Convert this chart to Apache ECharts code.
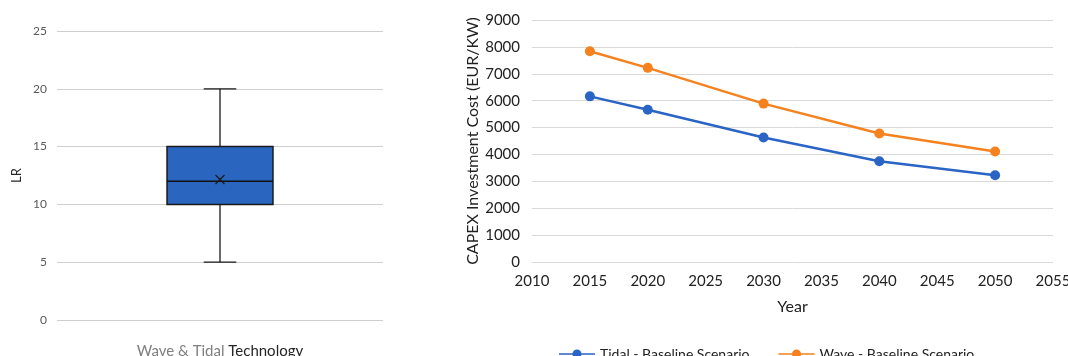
<!DOCTYPE html>
<html><head><meta charset="utf-8">
<script src="https://cdn.jsdelivr.net/npm/echarts@6/dist/echarts.min.js"></script>
<style>html,body{margin:0;padding:0;background:#fff}#c{width:1068px;height:356px}</style>
</head><body><div id="c"></div>
<script>
// Box plot (Learning Rate)
const boxCategories = ['Wave & Tidal Technology'];
const boxStats = [[0, 5, 10, 12, 15, 20, 12.15]]; // [cat, min, q1, median, q3, max, mean]
const lrTicks = [0, 5, 10, 15, 20, 25];

// CAPEX lines
const years = [2015, 2020, 2030, 2040, 2050];
const tidalCapex = [6160, 5665, 4630, 3745, 3225];
const waveCapex = [7840, 7220, 5890, 4780, 4110];
const yearTicks = [2010, 2015, 2020, 2025, 2030, 2035, 2040, 2045, 2050, 2055];

const FONT = 'Lato';
const legendIcon = 'path://M0,4.2 L40,4.2 L40,5.8 L0,5.8 Z M20,0 A5,5 0 1,1 19.99,0 Z';
const chart = echarts.init(document.getElementById('c'));
chart.setOption({
  animation: false,
  textStyle: { fontFamily: FONT },
  grid: [
    { left: 57, top: 31, width: 326, height: 289, outerBoundsMode: 'none', containLabel: false },
    { left: 532, top: 20, right: 15, bottom: 94, outerBoundsMode: 'none', containLabel: false }
  ],
  xAxis: [
    { gridIndex: 0, type: 'category', data: boxCategories,
      axisLine: { show: false }, axisTick: { show: false },
      axisLabel: { margin: 24, fontSize: 15, fontFamily: FONT,
        formatter: v => '{g|Wave & Tidal} {d|Technology}',
        rich: { g: { color: '#7f7f7f', fontSize: 15, fontFamily: FONT }, d: { color: '#262626', fontSize: 15, fontFamily: FONT } } } },
    { gridIndex: 1, type: 'value', min: yearTicks[0], max: yearTicks[yearTicks.length - 1], interval: 5,
      axisLine: { show: false }, axisTick: { show: false }, splitLine: { show: false },
      axisLabel: { color: '#222', fontSize: 15, margin: 12, fontFamily: FONT, formatter: v => String(v) },
      name: 'Year', nameLocation: 'middle', nameGap: 37,
      nameTextStyle: { color: '#222', fontSize: 16, fontFamily: FONT } }
  ],
  yAxis: [
    { gridIndex: 0, type: 'value', min: lrTicks[0], max: lrTicks[lrTicks.length - 1], interval: 5,
      axisLine: { show: false }, axisTick: { show: false },
      splitLine: { lineStyle: { color: '#cfcfcf', width: 1 } },
      axisLabel: { color: '#595959', fontSize: 12, margin: 10, fontFamily: FONT },
      name: 'LR', nameLocation: 'middle', nameGap: 34,
      nameTextStyle: { color: '#262626', fontSize: 13, fontFamily: FONT } },
    { gridIndex: 1, type: 'value', min: 0, max: 9000, interval: 1000,
      axisLine: { show: false }, axisTick: { show: false },
      splitLine: { lineStyle: { color: '#d9d9d9', width: 1 } },
      axisLabel: { color: '#222', fontSize: 15, margin: 12, fontFamily: FONT, formatter: v => String(v) },
      name: 'CAPEX Investment Cost (EUR/KW)', nameLocation: 'middle', nameGap: 51,
      nameTextStyle: { color: '#222', fontSize: 16, fontFamily: FONT } }
  ],
  legend: {
    top: 342, left: 554, itemGap: 29, itemWidth: 36, itemHeight: 10,
    textStyle: { color: '#222', fontSize: 14, fontFamily: FONT },
    data: [
      { name: 'Tidal - Baseline Scenario', icon: legendIcon, itemStyle: { color: '#2a64c5' } },
      { name: 'Wave - Baseline Scenario', icon: legendIcon, itemStyle: { color: '#f5821f' } }
    ]
  },
  series: [
    { type: 'custom', xAxisIndex: 0, yAxisIndex: 0, data: boxStats,
      renderItem: function (params, api) {
        const band = api.size([1, 0])[0];
        const cx = api.coord([api.value(0), 0])[0];
        const yMin = api.coord([0, api.value(1)])[1];
        const yQ1 = api.coord([0, api.value(2)])[1];
        const yMed = api.coord([0, api.value(3)])[1];
        const yQ3 = api.coord([0, api.value(4)])[1];
        const yMax = api.coord([0, api.value(5)])[1];
        const yMean = api.coord([0, api.value(6)])[1];
        const bw = band * 0.325, cw = band * 0.1, m = 4.5;
        const ls = { stroke: '#1a1a1a', lineWidth: 1.3 };
        return { type: 'group', children: [
          { type: 'line', shape: { x1: cx, y1: yMax, x2: cx, y2: yQ3 }, style: ls },
          { type: 'line', shape: { x1: cx, y1: yQ1, x2: cx, y2: yMin }, style: ls },
          { type: 'line', shape: { x1: cx - cw / 2, y1: yMax, x2: cx + cw / 2, y2: yMax }, style: ls },
          { type: 'line', shape: { x1: cx - cw / 2, y1: yMin, x2: cx + cw / 2, y2: yMin }, style: ls },
          { type: 'rect', shape: { x: cx - bw / 2, y: yQ3, width: bw, height: yQ1 - yQ3 },
            style: { fill: '#2a66c0', stroke: '#1a1a1a', lineWidth: 1.5 } },
          { type: 'line', shape: { x1: cx - bw / 2, y1: yMed, x2: cx + bw / 2, y2: yMed }, style: { stroke: '#111', lineWidth: 1.6 } },
          { type: 'line', shape: { x1: cx - m, y1: yMean - m, x2: cx + m, y2: yMean + m }, style: ls },
          { type: 'line', shape: { x1: cx - m, y1: yMean + m, x2: cx + m, y2: yMean - m }, style: ls }
        ] };
      } },
    { name: 'Tidal - Baseline Scenario', type: 'line', xAxisIndex: 1, yAxisIndex: 1,
      data: years.map((y, i) => [y, tidalCapex[i]]),
      symbol: 'circle', symbolSize: 10, color: '#2a64c5',
      lineStyle: { width: 2.5, color: '#2a64c5' }, itemStyle: { color: '#2a64c5' } },
    { name: 'Wave - Baseline Scenario', type: 'line', xAxisIndex: 1, yAxisIndex: 1,
      data: years.map((y, i) => [y, waveCapex[i]]),
      symbol: 'circle', symbolSize: 10, color: '#f5821f',
      lineStyle: { width: 2.5, color: '#f5821f' }, itemStyle: { color: '#f5821f' } }
  ]
});
</script></body></html>
